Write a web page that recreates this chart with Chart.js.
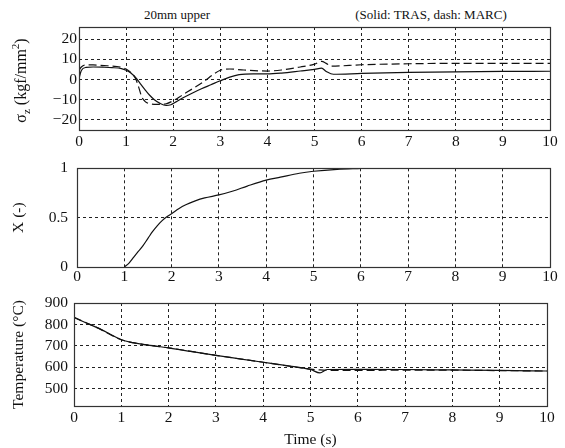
<!DOCTYPE html>
<html>
<head>
<meta charset="utf-8">
<script src="https://cdn.jsdelivr.net/npm/chart.js@4.4.1/dist/chart.umd.min.js"></script>
<style>
  html, body { margin: 0; padding: 0; background: #fff; }
  body { width: 565px; height: 448px; position: relative; overflow: hidden; font-family: 'Liberation Serif', 'DejaVu Serif', serif; }
  canvas { position: absolute; left: 0; }
  .note { position: absolute; top: 7px; font-size: 13px; color: #111; white-space: nowrap; transform: translateX(-50%); }
</style>
</head>
<body>
<div class="note" style="left:177px">20mm upper</div>
<div class="note" style="left:431px">(Solid: TRAS, dash: MARC)</div>
<canvas id="c1" width="565" height="150" style="top:0px"></canvas>
<canvas id="c2" width="565" height="137" style="top:150px"></canvas>
<canvas id="c3" width="565" height="161" style="top:287px"></canvas>
<script>
// ---------- data ----------
const timeTicks = [0, 1, 2, 3, 4, 5, 6, 7, 8, 9, 10];

const stressTicks = [-20, -10, 0, 10, 20];
const stressTimeTRAS = [0, 0.05, 0.15, 0.3, 0.5, 0.7, 0.9, 1.0, 1.1, 1.2, 1.3, 1.4, 1.5, 1.6, 1.72, 1.85, 1.95, 2.05, 2.2, 2.4, 2.6, 2.8, 3.0, 3.2, 3.4, 3.7, 4.0, 4.3, 4.7, 5.0, 5.15, 5.25, 5.4, 6, 7, 8, 9, 10];
const stressTRAS = [0.5, 4.5, 6.0, 6.2, 6.1, 5.9, 5.4, 4.6, 3.2, 1.0, -2.0, -5.0, -7.8, -10.0, -11.8, -12.8, -12.5, -11.2, -9.2, -6.8, -4.6, -2.6, -0.6, 1.2, 2.4, 2.8, 2.8, 3.2, 4.2, 5.0, 5.6, 4.0, 2.6, 3.0, 3.5, 3.8, 4.0, 4.1];
const stressTimeMARC = [0, 0.05, 0.15, 0.3, 0.6, 0.9, 1.0, 1.1, 1.2, 1.27, 1.33, 1.4, 1.5, 1.65, 1.85, 2.0, 2.2, 2.45, 2.65, 2.85, 3.0, 3.2, 3.5, 4.0, 4.3, 4.7, 5.0, 5.15, 5.25, 5.35, 6, 7, 8, 9, 10];
const stressMARC = [4.5, 6.2, 7.3, 7.2, 6.8, 6.0, 5.2, 3.5, 0.5, -4, -8.5, -10.8, -12, -12.3, -12, -10.5, -7.6, -4, -1, 2.5, 4.6, 5.2, 4.7, 4.2, 4.7, 6.2, 7.6, 9.0, 8.0, 6.6, 7.3, 7.8, 8.0, 8.0, 8.0];

const fractionTicks = [0, 0.5, 1];
const fractionTime = [1.0, 1.1, 1.2, 1.3, 1.4, 1.5, 1.6, 1.7, 1.8, 1.9, 2.0, 2.15, 2.3, 2.5, 2.7, 3.0, 3.3, 3.6, 4.0, 4.3, 4.7, 5.0, 5.5, 6.0];
const fraction = [0, 0.04, 0.1, 0.16, 0.22, 0.29, 0.36, 0.42, 0.47, 0.51, 0.54, 0.59, 0.63, 0.67, 0.70, 0.73, 0.77, 0.82, 0.88, 0.91, 0.95, 0.97, 0.99, 1.0];

const tempTicks = [500, 600, 700, 800, 900];
const tempTimeTRAS = [0, 0.25, 0.5, 0.75, 1.0, 1.25, 1.5, 2.0, 2.5, 3.0, 3.5, 4.0, 4.5, 5.0, 5.2, 5.35, 6, 7, 8, 9, 10];
const tempTRAS = [833, 808, 784, 757, 729, 715, 706, 691, 673, 656, 640, 624, 608, 590, 574, 590, 591, 590, 588, 586, 583];
const tempTimeMARC = [0, 0.5, 1, 1.5, 2, 3, 4, 5, 5.2, 5.5, 6, 7, 8, 9, 10];
const tempMARC = [833, 784, 729, 706, 691, 656, 624, 592, 588, 586, 586, 587, 587, 585, 583];

const stressTitle = [{t: 'σ'}, {t: 'z', sub: true}, {t: ' (kgf/mm'}, {t: '2', sup: true}, {t: ')'}];
const fractionTitle = 'X (-)';
const tempTitle = 'Temperature (°C)';
const timeTitle = 'Time (s)';

// ---------- helpers ----------
const FONT = "'Liberation Serif', 'DejaVu Serif', serif";
const INK = '#111';
const pts = (xs, ys) => xs.map((x, i) => ({x: x, y: ys[i]}));
const fmtMinus = v => (v < 0 ? '\u2212' + Math.abs(v) : String(v));

const framePlugin = {
  id: 'frame',
  afterDraw(chart) {
    const a = chart.chartArea, ctx = chart.ctx;
    ctx.save();
    ctx.strokeStyle = '#333';
    ctx.lineWidth = 1.2;
    ctx.setLineDash([]);
    ctx.strokeRect(Math.round(a.left) + 0.5, Math.round(a.top) + 0.5, Math.round(a.right - a.left), Math.round(a.bottom - a.top));
    ctx.restore();
  }
};

const richTitlePlugin = {
  id: 'richTitle',
  afterDraw(chart, args, opts) {
    if (!opts || !opts.segments) return;
    const ctx = chart.ctx, a = chart.chartArea;
    const big = 'normal ' + opts.size + 'px ' + FONT, small = 'normal ' + Math.round(opts.size * 0.7) + 'px ' + FONT;
    ctx.save();
    let total = 0;
    const widths = opts.segments.map(s => {
      ctx.font = (s.sub || s.sup) ? small : big;
      const w = ctx.measureText(s.t).width;
      total += w;
      return w;
    });
    ctx.translate(opts.x, (a.top + a.bottom) / 2 + (opts.dy || 0));
    ctx.rotate(-Math.PI / 2);
    ctx.fillStyle = INK;
    ctx.textBaseline = 'alphabetic';
    let x = -total / 2;
    const base = opts.size * 0.35;
    opts.segments.forEach((s, i) => {
      ctx.font = (s.sub || s.sup) ? small : big;
      const dy = s.sub ? opts.size * 0.25 : (s.sup ? -opts.size * 0.4 : 0);
      ctx.fillText(s.t, x, base + dy);
      x += widths[i];
    });
    ctx.restore();
  }
};

const tickFont = { family: FONT, size: 15.5, weight: 'normal' };

function xScale(opts) {
  return {
    type: 'linear', min: 0, max: 10,
    afterBuildTicks: s => { s.ticks = timeTicks.map(v => ({value: v})); },
    afterFit: s => { s.height = opts.height; },
    grid: { color: '#222', lineWidth: 1, drawTicks: false },
    border: { display: false, dash: [3, 3] },
    ticks: { color: INK, font: tickFont, padding: opts.pad, maxRotation: 0, autoSkip: false },
    title: opts.title ? { display: true, text: opts.title, color: INK, font: { family: FONT, size: 15.5, weight: 'normal', lineHeight: 1 }, padding: 0 } : { display: false }
  };
}

function yScale(opts) {
  return {
    type: 'linear', min: opts.min, max: opts.max,
    afterBuildTicks: s => { s.ticks = opts.ticks.map(v => ({value: v})); },
    afterFit: s => { s.width = opts.width; },
    grid: { color: '#222', lineWidth: 1, drawTicks: false },
    border: { display: false, dash: [3, 3] },
    ticks: { color: INK, font: tickFont, padding: opts.pad, callback: opts.fmt || (v => String(v)) },
    title: opts.title ? { display: true, text: opts.title, color: INK, font: { family: FONT, size: 15.5, weight: 'normal', lineHeight: 1.2 }, padding: { top: opts.titlePad, bottom: 0 } } : { display: false }
  };
}

function lineDs(label, data, dashed) {
  return {
    label: label, data: data,
    borderColor: INK, backgroundColor: INK,
    borderWidth: 1.2, borderDash: dashed ? [8, 4] : [],
    pointRadius: 0, cubicInterpolationMode: 'monotone', fill: false
  };
}

const common = {
  responsive: false, animation: false, devicePixelRatio: 1,
  plugins: { legend: { display: false }, tooltip: { enabled: false } }
};

function draw() {
  // ---------- chart 1: stress ----------
  new Chart(document.getElementById('c1'), {
    type: 'line',
    data: { datasets: [
      lineDs('TRAS', pts(stressTimeTRAS, stressTRAS), false),
      lineDs('MARC', pts(stressTimeMARC, stressMARC), true)
    ]},
    options: Object.assign({}, common, {
      layout: { padding: { top: 27, right: 15, left: 0, bottom: 0 } },
      plugins: Object.assign({}, common.plugins, {
        richTitle: { segments: stressTitle, size: 16, x: 20, dy: 2 }
      }),
      scales: {
        x: xScale({ height: 20, pad: 3 }),
        y: yScale({ min: -25, max: 26, ticks: stressTicks, width: 79, pad: 2, fmt: fmtMinus })
      }
    }),
    plugins: [framePlugin, richTitlePlugin]
  });

  // ---------- chart 2: fraction ----------
  new Chart(document.getElementById('c2'), {
    type: 'line',
    data: { datasets: [ lineDs('X', pts(fractionTime, fraction), false) ]},
    options: Object.assign({}, common, {
      layout: { padding: { top: 16, right: 15, left: 0, bottom: 0 } },
      scales: {
        x: xScale({ height: 20, pad: 1 }),
        y: yScale({ min: 0, max: 1, ticks: fractionTicks, width: 77, pad: 9, title: fractionTitle, titlePad: 10 })
      }
    }),
    plugins: [framePlugin]
  });

  // ---------- chart 3: temperature ----------
  new Chart(document.getElementById('c3'), {
    type: 'line',
    data: { datasets: [
      lineDs('TRAS', pts(tempTimeTRAS, tempTRAS), false),
      lineDs('MARC', pts(tempTimeMARC, tempMARC), true)
    ]},
    options: Object.assign({}, common, {
      layout: { padding: { top: 16, right: 18, left: 0, bottom: 0 } },
      scales: {
        x: xScale({ height: 42, pad: 3, title: timeTitle }),
        y: yScale({ min: 420, max: 900, ticks: tempTicks, width: 74, pad: 6, title: tempTitle, titlePad: 10 })
      }
    }),
    plugins: [framePlugin]
  });
}

if (document.fonts && document.fonts.load) {
  Promise.all([
    document.fonts.load("16px 'Liberation Serif'"),
    document.fonts.load("11px 'Liberation Serif'")
  ]).then(draw, draw);
} else {
  draw();
}
</script>
</body>
</html>
